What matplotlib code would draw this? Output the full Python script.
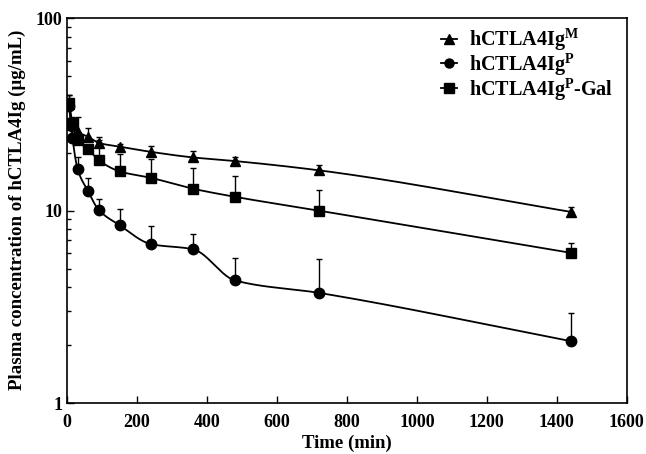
import numpy as np
import matplotlib
matplotlib.use('Agg')
import matplotlib.pyplot as plt

plt.rcParams['font.family'] = 'Liberation Serif'
plt.rcParams['font.weight'] = 'bold'
plt.rcParams['mathtext.fontset'] = 'custom'
plt.rcParams['mathtext.rm'] = 'Liberation Serif:bold'
plt.rcParams['mathtext.bf'] = 'Liberation Serif:bold'

# sampling times (min)
time = [5, 15, 30, 60, 90, 150, 240, 360, 480, 720, 1440]

# mean plasma concentration (ug/mL) and upper error bar tops
tri_mean = [36.0, 28.0, 25.7, 24.2, 22.5, 21.5, 20.2, 18.9, 18.1, 16.2, 9.86]
tri_top = [39.8, 30.7, 30.5, 26.9, 24.2, 22.3, 21.6, 20.4, 19.0, 17.2, 10.4]

circ_mean = [35.0, 23.8, 16.4, 12.6, 10.1, 8.4, 6.7, 6.3, 4.34, 3.74, 2.1]
circ_top = [38.0, 26.0, 19.0, 14.7, 11.5, 10.2, 8.3, 7.6, 5.7, 5.6, 2.93]

sq_mean = [36.3, 28.5, 23.2, 20.9, 18.3, 16.0, 14.8, 13.0, 11.8, 10.0, 6.04]
sq_top = [39.8, 30.0, 24.5, 21.5, 23.2, 19.6, 18.5, 16.7, 15.1, 12.8, 6.8]

labels = [r'hCTLA4Ig$^{\mathrm{M}}$', r'hCTLA4Ig$^{\mathrm{P}}$', r'hCTLA4Ig$^{\mathrm{P}}$-Gal']


def pchip(x, y, xn):
    ''' monotone cubic through the points (used for the smooth connecting lines) '''
    x = np.asarray(x, float)
    y = np.asarray(y, float)
    h = np.diff(x)
    d = np.diff(y) / h
    m = np.zeros_like(y)
    for k in range(1, len(x) - 1):
        if d[k - 1] * d[k] > 0:
            w1 = 2 * h[k] + h[k - 1]
            w2 = h[k] + 2 * h[k - 1]
            m[k] = (w1 + w2) / (w1 / d[k - 1] + w2 / d[k])
    m[0] = d[0]
    m[-1] = d[-1]
    idx = np.clip(np.searchsorted(x, xn) - 1, 0, len(x) - 2)
    t = (xn - x[idx]) / h[idx]
    h00 = 2 * t**3 - 3 * t**2 + 1
    h10 = t**3 - 2 * t**2 + t
    h01 = -2 * t**3 + 3 * t**2
    h11 = t**3 - t**2
    return h00 * y[idx] + h10 * h[idx] * m[idx] + h01 * y[idx + 1] + h11 * h[idx] * m[idx + 1]


fig = plt.figure(figsize=(6.46, 4.54), dpi=100)
ax = fig.add_axes([0.104, 0.112, 0.866, 0.848])

series = [
    (tri_mean, tri_top, '^', labels[0]),
    (circ_mean, circ_top, 'o', labels[1]),
    (sq_mean, sq_top, 's', labels[2]),
]

xs = np.linspace(time[0], time[-1], 1500)
for mean, top, mk, lab in series:
    mean = np.array(mean)
    up = np.array(top) - mean
    ax.errorbar(time, mean, yerr=[np.zeros_like(up), up], fmt='none',
                ecolor='black', elinewidth=1.0, capsize=2, capthick=1.0)
    ys = 10 ** pchip(time, np.log10(mean), xs)
    ax.plot(xs, ys, color='black', lw=1.3)
    ax.plot(time, mean, linestyle='none', marker=mk, color='black',
            markersize=7.5 if mk != 's' else 7)
    ax.plot([], [], color='black', lw=1.3, marker=mk, markersize=6.5, label=lab)

ax.set_yscale('log')
ax.set_ylim(1, 100)
ax.set_xlim(0, 1600)
ax.set_xticks(np.arange(0, 1601, 200))
ax.set_yticks([1, 10, 100])
ax.set_yticklabels(['1', '10', '100'])

ax.tick_params(axis='both', which='both', direction='in', top=False, right=False,
               labelsize=13)
ax.tick_params(axis='both', which='major', length=5, width=1)
ax.tick_params(axis='x', which='major', pad=7.5)
ax.tick_params(axis='y', which='minor', length=3, width=1)
ax.yaxis.set_minor_formatter(matplotlib.ticker.NullFormatter())
for s in ax.spines.values():
    s.set_linewidth(1.2)

ax.set_xlabel('Time (min)', fontsize=13.5, fontweight='bold', labelpad=3)
ax.set_ylabel('Plasma concentration of hCTLA4Ig (\u03bcg/mL)', fontsize=13.6,
              fontweight='bold')
ax.yaxis.set_label_coords(-0.074, 0.503)

leg = ax.legend(loc='upper left', bbox_to_anchor=(0.668, 0.98), frameon=False,
                fontsize=14.5, handlelength=0.8, handletextpad=0.6,
                labelspacing=-0.1, borderpad=0, borderaxespad=0)

fig.savefig('out.png', dpi=100)
